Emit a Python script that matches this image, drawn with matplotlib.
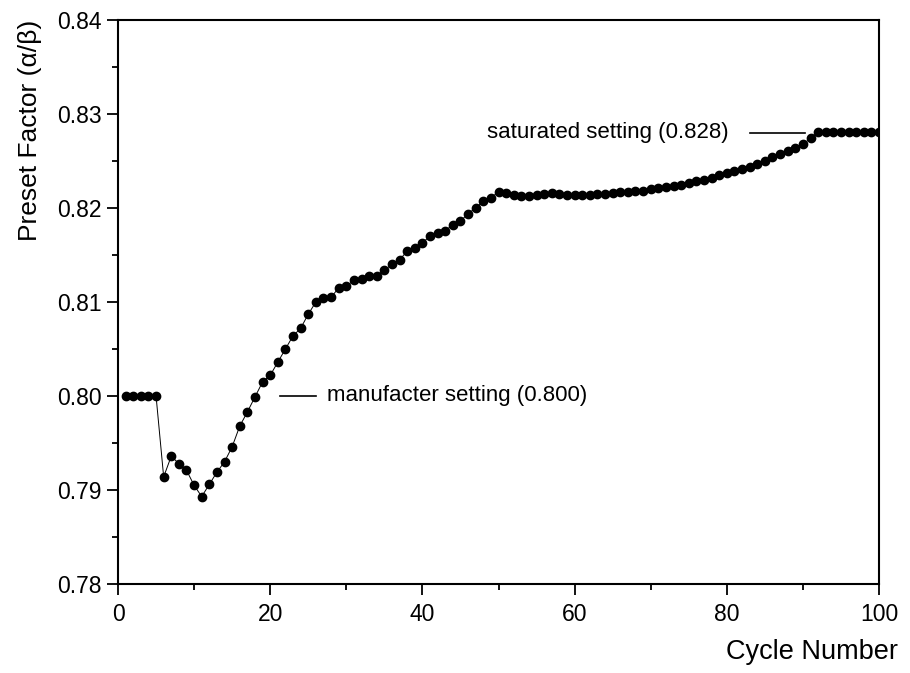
import numpy as np
import matplotlib.pyplot as plt
from matplotlib.ticker import MultipleLocator

# Data

cycles = np.arange(1, 101)
preset = [
    0.8000, 0.8000, 0.8000, 0.8000, 0.8000, 0.7914, 0.7936, 0.7928, 0.7921, 0.7905,
    0.7893, 0.7906, 0.7919, 0.7930, 0.7946, 0.7968, 0.7983, 0.7999, 0.8015, 0.8022,
    0.8036, 0.8050, 0.8064, 0.8072, 0.8087, 0.8100, 0.8104, 0.8105, 0.8115, 0.8117,
    0.8123, 0.8125, 0.8128, 0.8128, 0.8134, 0.8140, 0.8145, 0.8154, 0.8157, 0.8163,
    0.8170, 0.8173, 0.8176, 0.8182, 0.8186, 0.8194, 0.8200, 0.8207, 0.8211, 0.8217,
    0.8216, 0.8214, 0.8213, 0.8213, 0.8214, 0.8215, 0.8216, 0.8215, 0.8214, 0.8214,
    0.8214, 0.8214, 0.8215, 0.8215, 0.8216, 0.8217, 0.8217, 0.8218, 0.8218, 0.8220,
    0.8221, 0.8222, 0.8223, 0.8225, 0.8227, 0.8229, 0.8230, 0.8232, 0.8235, 0.8237,
    0.8239, 0.8241, 0.8244, 0.8247, 0.8250, 0.8254, 0.8257, 0.8261, 0.8264, 0.8268,
    0.8274, 0.8281, 0.8281, 0.8281, 0.8281, 0.8281, 0.8281, 0.8281, 0.8281, 0.8281,
]

manufacturer_value = 0.800
saturated_value = 0.828
manuf_label = "manufacter setting (0.800)"
sat_label = "saturated setting (0.828)"

x_ticks = [0, 20, 40, 60, 80, 100]
y_ticks = [0.78, 0.79, 0.80, 0.81, 0.82, 0.83, 0.84]

plt.rcParams["font.family"] = ["Liberation Sans", "DejaVu Sans"]

fig = plt.figure(figsize=(9.10, 6.73), dpi=100, facecolor="white")
ax = fig.add_axes([118 / 910, 1 - 584 / 673, (879 - 118) / 910, (584 - 20) / 673])

ax.plot(cycles, preset, color="black", linewidth=0.7, marker="o",
        markersize=6, markerfacecolor="black", markeredgecolor="black")

# Annotation leaders
ax.plot([21.3, 26.0], [manufacturer_value, manufacturer_value], color="black", linewidth=1.2)
ax.text(27.5, manufacturer_value, manuf_label, fontsize=16, ha="left", va="center")
ax.plot([83.0, 90.3], [saturated_value, saturated_value], color="black", linewidth=1.2)
ax.text(80.2, saturated_value, sat_label, fontsize=16, ha="right", va="center")

ax.set_xlim(0, 100)
ax.set_ylim(0.78, 0.84)
ax.set_xticks(x_ticks)
ax.set_yticks(y_ticks)
ax.set_yticklabels([f"{v:.2f}" for v in y_ticks])
ax.xaxis.set_minor_locator(MultipleLocator(10))
ax.yaxis.set_minor_locator(MultipleLocator(0.005))

ax.tick_params(which="major", direction="out", length=8, width=1.3, labelsize=16.5)
ax.tick_params(which="minor", direction="out", length=4, width=1.3)
ax.tick_params(axis="x", which="major", pad=6)
ax.tick_params(axis="y", which="major", pad=4)
ax.tick_params(top=False, right=False, which="both")

for s in ax.spines.values():
    s.set_linewidth(1.5)

fig.text(898 / 910, 1 - 652 / 673, "Cycle Number", fontsize=19.5, ha="right", va="center")
fig.text(30 / 910, 1 - 20 / 673, "Preset Factor (α/β)", fontsize=19,
         rotation=90, ha="center", va="top")

fig.savefig("out.png", dpi=100, facecolor="white")
